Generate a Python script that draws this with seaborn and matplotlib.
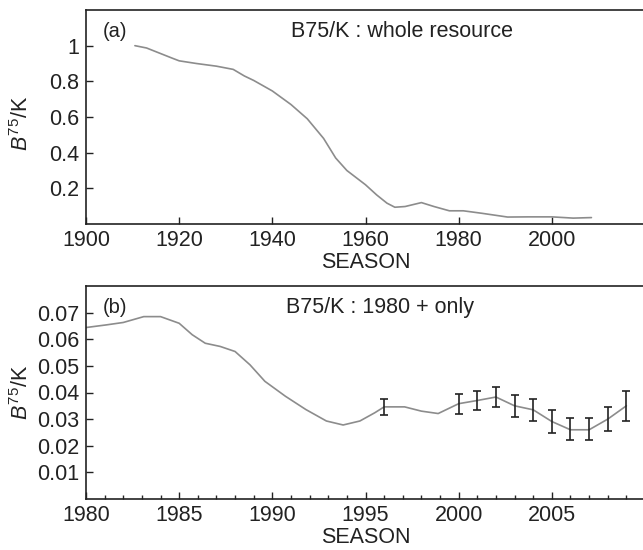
import numpy as np
import pandas as pd
import matplotlib
matplotlib.use("Agg")
import matplotlib.pyplot as plt
from matplotlib.ticker import MultipleLocator, FuncFormatter
import seaborn as sns

# --- whole-resource depletion trajectory (panel a) ---
years_all = [1910.5, 1913, 1918.5, 1920, 1923.7, 1928, 1931.6, 1934, 1936, 1940,
             1944, 1947.5, 1951, 1953.6, 1956, 1960, 1962.4, 1964.6, 1966.3, 1968.5,
             1972, 1974.7, 1978, 1981, 1985, 1990.5, 1995, 2000, 2004.6, 2008.5]
ratio_all = [1.0, 0.987, 0.93, 0.915, 0.90, 0.885, 0.867, 0.83, 0.805, 0.746,
             0.67, 0.59, 0.48, 0.37, 0.30, 0.22, 0.163, 0.117, 0.094, 0.098,
             0.12, 0.098, 0.074, 0.074, 0.06, 0.039, 0.040, 0.040, 0.033, 0.036]

# --- 1980+ trajectory (panel b) ---
years_recent = [1980, 1981.1, 1982, 1983.1, 1984, 1985, 1985.7, 1986.4, 1987.2, 1988,
                1988.8, 1989.6, 1990.7, 1991.8, 1992.9, 1993.8, 1994.7, 1995.5, 1996,
                1997.1, 1998, 1998.9, 2000, 2001, 2002, 2003, 2004, 2005, 2006, 2007,
                2008, 2009]
ratio_recent = [0.0644, 0.0654, 0.0663, 0.0685, 0.0685, 0.066, 0.0617, 0.0585, 0.0573,
                0.0554, 0.0504, 0.0442, 0.0386, 0.0336, 0.0293, 0.0278, 0.0293, 0.0324,
                0.0346, 0.0346, 0.033, 0.0321, 0.0358, 0.037, 0.0383, 0.035, 0.0335,
                0.0291, 0.026, 0.026, 0.030, 0.035]

# --- survey-based estimates with intervals ---
est_years = [1996, 2000, 2001, 2002, 2003, 2004, 2005, 2006, 2007, 2008, 2009]
est_low = [0.0315, 0.0320, 0.0336, 0.0345, 0.0308, 0.0293, 0.0249, 0.0220, 0.0220,
           0.0255, 0.0293]
est_high = [0.0377, 0.0396, 0.0405, 0.0421, 0.0392, 0.0376, 0.0333, 0.0303, 0.0303,
            0.0345, 0.0405]

sns.set_style("ticks")
plt.rcParams["font.family"] = ["Liberation Sans", "DejaVu Sans"]
plt.rcParams["mathtext.fontset"] = "custom"
plt.rcParams["mathtext.rm"] = "Liberation Sans"
plt.rcParams["mathtext.it"] = "Liberation Sans:italic"

FS = 15.5
ink = "#222222"
line_color = "#8c8c8c"

fig = plt.figure(figsize=(6.43, 5.5), dpi=100)
fig.patch.set_facecolor("white")
ax1 = fig.add_axes([86 / 643, 1 - 224 / 550, (645 - 86) / 643, (224 - 10) / 550])
ax2 = fig.add_axes([86 / 643, 1 - 499 / 550, (645 - 86) / 643, (499 - 286) / 550])

df_all = pd.DataFrame({"SEASON": years_all, "ratio": ratio_all})
df_recent = pd.DataFrame({"SEASON": years_recent, "ratio": ratio_recent})

sns.lineplot(data=df_all, x="SEASON", y="ratio", ax=ax1, color=line_color, lw=1.2)
sns.lineplot(data=df_recent, x="SEASON", y="ratio", ax=ax2, color=line_color, lw=1.2)

mid = [(lo + hi) / 2 for lo, hi in zip(est_low, est_high)]
yerr = [[m - lo for m, lo in zip(mid, est_low)], [hi - m for m, hi in zip(mid, est_high)]]
ax2.errorbar(est_years, mid, yerr=yerr, fmt="none", ecolor=ink,
             elinewidth=1.2, capsize=3, capthick=1.2)

fmt = FuncFormatter(lambda v, p: f"{v:g}")

for ax in (ax1, ax2):
    for s in ax.spines.values():
        s.set_visible(True)
        s.set_color(ink)
        s.set_linewidth(1.2)
    ax.tick_params(direction="in", length=5, width=1, labelsize=FS,
                   colors=ink, pad=4)
    ax.tick_params(axis="y", pad=5)
    ax.set_xlabel("SEASON", fontsize=FS, labelpad=1, color=ink)
    ax.set_ylabel(r"$\mathit{B}^{75}$/K", fontsize=FS, color=ink)
    ax.yaxis.set_major_formatter(fmt)

ax1.set_xlim(1900, 2020)
ax1.set_ylim(0, 1.2)
ax1.set_xticks([1900, 1920, 1940, 1960, 1980, 2000])
ax1.set_yticks([0.2, 0.4, 0.6, 0.8, 1.0])
ax1.yaxis.set_label_coords(-0.095, 0.47)
ax1.text(0.03, 0.9, "(a)", transform=ax1.transAxes, fontsize=FS - 1, ha="left",
         va="center", color=ink)
ax1.text(0.565, 0.9, "B75/K : whole resource", transform=ax1.transAxes,
         fontsize=FS, ha="center", va="center", color=ink)

ax2.set_xlim(1980, 2010)
ax2.set_ylim(0, 0.08)
ax2.set_xticks([1980, 1985, 1990, 1995, 2000, 2005])
ax2.xaxis.set_minor_locator(MultipleLocator(1))
ax2.tick_params(axis="x", which="minor", direction="in", length=3, width=1)
ax2.set_yticks([0.01, 0.02, 0.03, 0.04, 0.05, 0.06, 0.07])
ax2.yaxis.set_label_coords(-0.095, 0.5)
ax2.text(0.03, 0.9, "(b)", transform=ax2.transAxes, fontsize=FS - 1, ha="left",
         va="center", color=ink)
ax2.text(0.526, 0.9, "B75/K : 1980 + only", transform=ax2.transAxes,
         fontsize=FS, ha="center", va="center", color=ink)

fig.savefig("out.png", dpi=100, facecolor="white")
